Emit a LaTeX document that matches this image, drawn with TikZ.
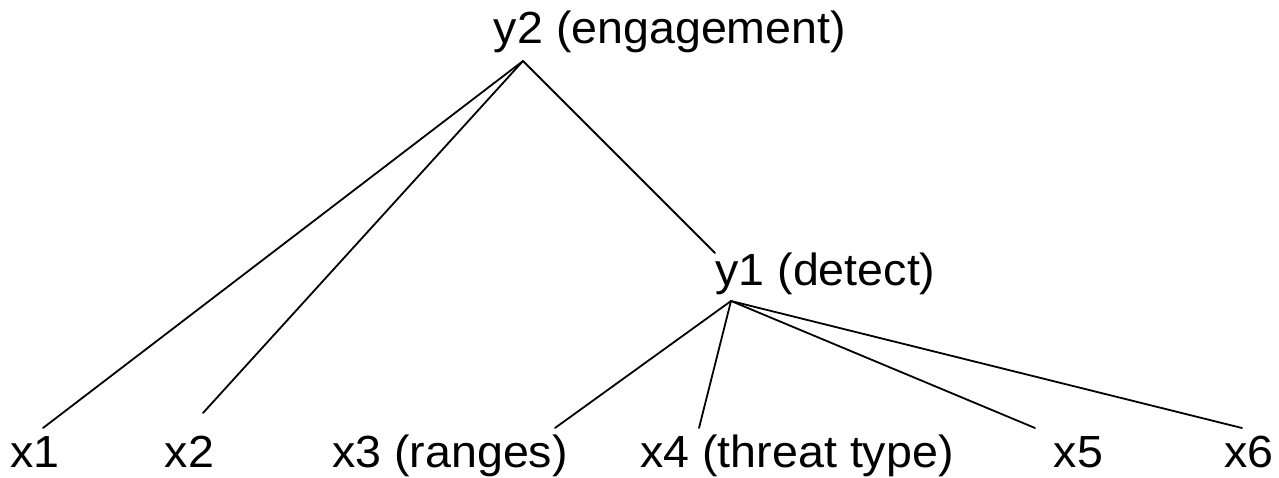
\documentclass[tikz,border=0pt]{standalone}
\usepackage{fontspec}
\usepackage{graphicx}
\setmainfont{Liberation Sans}
\tikzset{
  lbl/.style={inner sep=0pt, anchor=base, font=\fontsize{45}{54}\selectfont},
  edge/.style={line width=1.8pt, black, line cap=round}
}
\newcommand{\wide}[1]{\scalebox{1.035}[1]{#1}}
\begin{document}
\begin{tikzpicture}[x=1pt, y=-1pt]
\useasboundingbox[fill=white] (0,0) rectangle (1279,478);
% labels
\node[lbl] (y2) at (670,44) {\wide{y2 (engagement)}};
\node[lbl] (y1) at (825.5,286) {\wide{y1 (detect)}};
\node[lbl] (x1) at (35,467) {\wide{x1}};
\node[lbl] (x2) at (189.5,467) {\wide{x2}};
\node[lbl] (x3) at (450,467) {\wide{x3 (ranges)}};
\node[lbl] (x4) at (797,467) {\wide{x4 (threat type)}};
\node[lbl] (x5) at (1078.5,467) {\wide{x5}};
\node[lbl] (x6) at (1249,467) {\wide{x6}};
% connector end points
\coordinate (y2a) at (523,61);
\coordinate (y1top) at (715,253);
\coordinate (y1a) at (731,301);
\coordinate (x1t) at (43,428);
\coordinate (x2t) at (203,413);
\coordinate (x3t) at (555,428);
\coordinate (x4t) at (699,428);
\coordinate (x5t) at (1035,428);
\coordinate (x6t) at (1242,428);
% connectors
\draw[edge] (y2a) -- (x1t);
\draw[edge] (y2a) -- (x2t);
\draw[edge] (y2a) -- (y1top);
\draw[edge] (y1a) -- (x3t);
\draw[edge] (y1a) -- (x4t);
\draw[edge] (y1a) -- (x5t);
\draw[edge] (y1a) -- (x6t);
\end{tikzpicture}
\end{document}
